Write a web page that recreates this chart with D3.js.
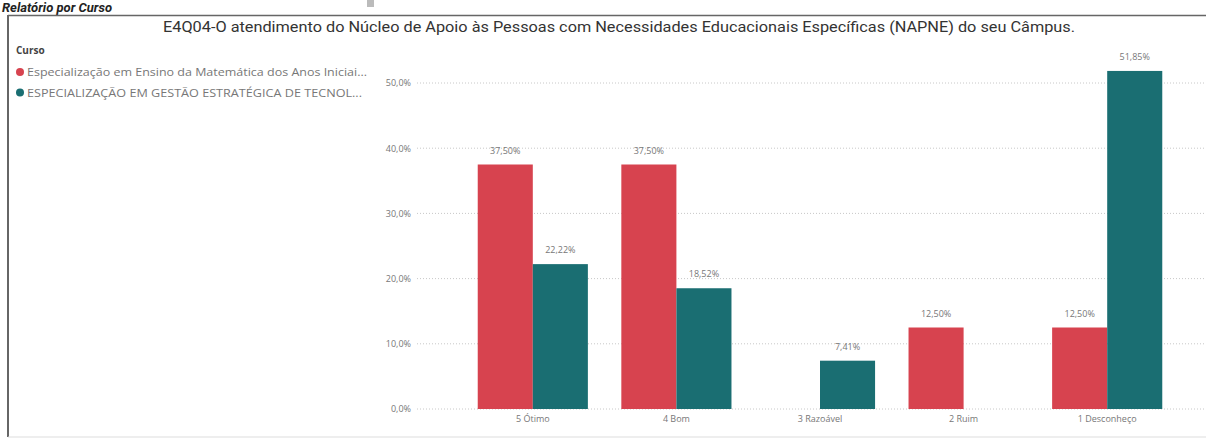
<!DOCTYPE html>
<html>
<head>
<meta charset="utf-8">
<script src="https://cdn.jsdelivr.net/npm/d3@7"></script>
<style type="text/css">
    body{ margin: 0; background: #fff; }
    text{ font-family: "Open Sans", sans-serif; }
    .grid line{ stroke: #c8c8c8; stroke-dasharray: 1,2; }
    .axis text{ fill: #777; font-size: 9px; }
    .lbl{ fill: #777; font-size: 9px; text-anchor: middle; }
</style>
</head>
<body>
<script type="text/javascript">
var width = 1206,
    height = 438;

var categories = ['5 Ótimo', '4 Bom', '3 Razoável', '2 Ruim', '1 Desconheço'];
var seriesNames = [
    'Especialização em Ensino da Matemática dos Anos Iniciai...',
    'ESPECIALIZAÇÃO EM GESTÃO ESTRATÉGICA DE TECNOL...'
];
var matematica = [37.50, 37.50, null, 12.50, 12.50];
var gestao = [22.22, 18.52, 7.41, null, 51.85];
var yTicks = [0, 10, 20, 30, 40, 50];
var colors = ['#d7434f', '#1a6e72'];

var svg = d3.select('body')
    .append('svg')
        .attr('width', width)
        .attr('height', height);

// header, partly hidden in the reference
svg.append('text')
    .attr('x', 2).attr('y', 12)
    .style('font-family', 'Roboto')
    .style('font-size', '13px')
    .style('font-weight', 'bold')
    .style('font-style', 'italic')
    .attr('fill', '#222')
    .text('Relatório por Curso');
svg.append('rect')
    .attr('x', 367).attr('y', 0).attr('width', 7).attr('height', 7)
    .attr('fill', '#bbb');

// frame
svg.append('line').attr('x1', 8).attr('x2', width).attr('y1', 15.5).attr('y2', 15.5)
    .attr('stroke', '#666').attr('stroke-width', 1.5);
svg.append('line').attr('x1', 8).attr('x2', 8).attr('y1', 15).attr('y2', 437)
    .attr('stroke', '#666').attr('stroke-width', 2);
svg.append('line').attr('x1', 8).attr('x2', width).attr('y1', 437).attr('y2', 437)
    .attr('stroke', '#ddd');

svg.append('text')
    .attr('x', 163).attr('y', 32)
    .style('font-family', 'Roboto')
    .style('font-size', '14px')
    .attr('fill', '#333')
    .attr('textLength', 912)
    .attr('lengthAdjust', 'spacingAndGlyphs')
    .text('E4Q04-O atendimento do Núcleo de Apoio às Pessoas com Necessidades Educacionais Específicas (NAPNE) do seu Câmpus.');

// legend
svg.append('text')
    .attr('x', 16).attr('y', 54)
    .style('font-size', '10px').style('font-weight', 'bold')
    .attr('fill', '#444')
    .text('Curso');

var legendWidths = [340, 335];
var legend = svg.selectAll('.legend')
    .data(seriesNames)
    .enter()
    .append('g')
        .attr('class', 'legend')
        .attr('transform', function(d, i){ return 'translate(0,' + (72 + i * 20.5) + ')'; });
legend.append('circle')
    .attr('cx', 20).attr('cy', 0).attr('r', 4)
    .attr('fill', function(d, i){ return colors[i]; });
legend.append('text')
    .attr('x', 27).attr('y', 4)
    .style('font-size', '11px')
    .attr('fill', '#777')
    .attr('textLength', function(d, i){ return legendWidths[i]; })
    .attr('lengthAdjust', 'spacingAndGlyphs')
    .text(function(d){ return d; });

// scales
var x = d3.scaleBand()
    .domain(categories)
    .range([461, 1179])
    .paddingInner(0.233)
    .paddingOuter(0.1165);

var x1 = d3.scaleBand()
    .domain([0, 1])
    .range([0, x.bandwidth()]);

var y = d3.scaleLinear()
    .domain([0, 50])
    .range([409, 83]);

// grid
var grid = svg.append('g').attr('class', 'grid');
grid.selectAll('line')
    .data(yTicks)
    .enter()
    .append('line')
        .attr('x1', 417).attr('x2', width)
        .attr('y1', function(d){ return y(d); })
        .attr('y2', function(d){ return y(d); });

var yAxis = d3.axisLeft(y)
    .tickValues(yTicks)
    .tickSize(0)
    .tickPadding(0)
    .tickFormat(function(d){ return d3.format('.1f')(d).replace('.', ',') + '%'; });
svg.append('g')
    .attr('class', 'axis')
    .attr('transform', 'translate(411,0)')
    .call(yAxis)
    .call(function(g){ g.select('.domain').remove(); });

var xAxis = d3.axisBottom(x).tickSize(0).tickPadding(0);
svg.append('g')
    .attr('class', 'axis')
    .attr('transform', 'translate(0,416)')
    .call(xAxis)
    .call(function(g){ g.select('.domain').remove(); })
    .selectAll('text').attr('dy', '0.71em');

// bars
var series = [matematica, gestao];
series.forEach(function(vals, s){
    var pts = categories.map(function(c, i){ return { cat: c, v: vals[i] }; })
        .filter(function(d){ return d.v != null; });
    var g = svg.append('g');
    g.selectAll('rect')
        .data(pts)
        .enter()
        .append('rect')
            .attr('x', function(d){ return x(d.cat) + x1(s); })
            .attr('width', x1.bandwidth())
            .attr('y', function(d){ return y(d.v); })
            .attr('height', function(d){ return y(0) - y(d.v); })
            .attr('fill', colors[s]);
    g.selectAll('text')
        .data(pts)
        .enter()
        .append('text')
            .attr('class', 'lbl')
            .attr('x', function(d){ return x(d.cat) + x1(s) + x1.bandwidth() / 2; })
            .attr('y', function(d){ return y(d.v) - 11; })
            .text(function(d){ return d3.format('.2f')(d.v).replace('.', ',') + '%'; });
});
</script>
</body>
</html>
